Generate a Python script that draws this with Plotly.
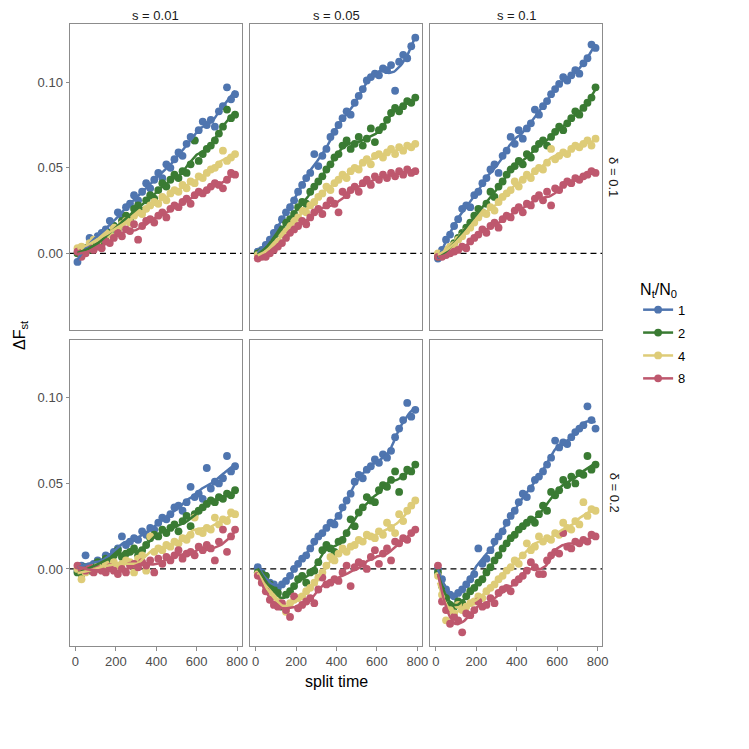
import numpy as np
import plotly.graph_objects as go
from plotly.subplots import make_subplots

# ---------------- data ----------------
split_time = [10, 30, 50, 70, 90, 110, 130, 150, 170, 190,
              210, 230, 250, 270, 290, 310, 330, 350, 370, 390,
              410, 430, 450, 470, 490, 510, 530, 550, 570, 590,
              610, 630, 650, 670, 690, 710, 730, 750, 770, 790]

ratio_labels = ["1", "2", "4", "8"]
s_labels = ["s = 0.01", "s = 0.05", "s = 0.1"]
delta_labels = ["δ = 0.1", "δ = 0.2"]
x_ticks = [0, 200, 400, 600, 800]
y_ticks = [0.0, 0.05, 0.10]
y_ticktext = ["0.00", "0.05", "0.10"]

# delta = 0.1, s = 0.01
d1_s1_n1 = [-0.005, 0.001, 0.003, 0.009, 0.006, 0.010, 0.012, 0.014, 0.019, 0.016, 0.024, 0.022, 0.027, 0.029, 0.034, 0.031, 0.036, 0.041, 0.038, 0.043, 0.047, 0.044, 0.052, 0.050, 0.055, 0.059, 0.057, 0.064, 0.068, 0.066, 0.072, 0.077, 0.075, 0.078, 0.074, 0.083, 0.086, 0.097, 0.090, 0.093]
d1_s1_n2 = [0.000, 0.001, 0.003, 0.002, 0.005, 0.007, 0.006, 0.010, 0.012, 0.016, 0.014, 0.019, 0.022, 0.020, 0.026, 0.028, 0.025, 0.031, 0.034, 0.032, 0.037, 0.041, 0.039, 0.043, 0.046, 0.044, 0.048, 0.047, 0.052, 0.066, 0.054, 0.058, 0.061, 0.063, 0.066, 0.070, 0.074, 0.084, 0.079, 0.081]
d1_s1_n4 = [0.003, 0.004, 0.002, 0.006, 0.008, 0.007, 0.010, 0.012, 0.011, 0.015, 0.014, 0.017, 0.019, 0.018, 0.022, 0.024, 0.023, 0.026, 0.028, 0.030, 0.029, 0.033, 0.031, 0.035, 0.037, 0.036, 0.040, 0.038, 0.042, 0.041, 0.045, 0.044, 0.047, 0.049, 0.050, 0.052, 0.060, 0.054, 0.056, 0.058]
d1_s1_n8 = [0.001, -0.002, 0.000, 0.003, 0.002, 0.004, 0.003, 0.007, 0.006, 0.009, 0.012, 0.010, 0.014, 0.013, 0.017, 0.008, 0.016, 0.019, 0.020, 0.018, 0.022, 0.024, 0.021, 0.026, 0.028, 0.027, 0.030, 0.032, 0.029, 0.034, 0.036, 0.035, 0.037, 0.039, 0.041, 0.040, 0.038, 0.043, 0.047, 0.046]

# delta = 0.1, s = 0.05
d1_s2_n1 = [0.001, 0.002, 0.005, 0.008, 0.012, 0.015, 0.020, 0.024, 0.027, 0.031, 0.036, 0.040, 0.044, 0.047, 0.058, 0.051, 0.057, 0.061, 0.068, 0.071, 0.075, 0.079, 0.083, 0.081, 0.088, 0.092, 0.096, 0.101, 0.103, 0.105, 0.104, 0.108, 0.107, 0.110, 0.095, 0.112, 0.116, 0.114, 0.121, 0.126]
d1_s2_n2 = [0.000, 0.001, 0.002, 0.005, 0.009, 0.012, 0.014, 0.018, 0.020, 0.023, 0.027, 0.030, 0.029, 0.036, 0.039, 0.042, 0.045, 0.049, 0.052, 0.056, 0.058, 0.063, 0.066, 0.061, 0.064, 0.068, 0.063, 0.067, 0.073, 0.065, 0.072, 0.074, 0.078, 0.082, 0.085, 0.083, 0.086, 0.089, 0.088, 0.091]
d1_s2_n4 = [-0.001, 0.000, 0.001, 0.003, 0.005, 0.007, 0.011, 0.013, 0.016, 0.019, 0.021, 0.025, 0.024, 0.028, 0.030, 0.033, 0.035, 0.039, 0.037, 0.041, 0.043, 0.046, 0.044, 0.048, 0.050, 0.049, 0.053, 0.055, 0.052, 0.057, 0.058, 0.056, 0.059, 0.061, 0.058, 0.062, 0.060, 0.063, 0.062, 0.064]
d1_s2_n8 = [-0.003, -0.002, -0.002, 0.000, 0.002, 0.004, 0.006, 0.009, 0.012, 0.014, 0.016, 0.019, 0.017, 0.021, 0.024, 0.026, 0.023, 0.028, 0.031, 0.029, 0.024, 0.036, 0.034, 0.037, 0.039, 0.036, 0.041, 0.043, 0.040, 0.045, 0.043, 0.046, 0.044, 0.047, 0.045, 0.048, 0.046, 0.049, 0.047, 0.048]

# delta = 0.1, s = 0.1
d1_s3_n1 = [-0.003, 0.002, 0.008, 0.011, 0.016, 0.020, 0.026, 0.028, 0.027, 0.034, 0.036, 0.041, 0.044, 0.049, 0.052, 0.047, 0.057, 0.060, 0.068, 0.064, 0.072, 0.067, 0.073, 0.076, 0.084, 0.081, 0.086, 0.089, 0.093, 0.096, 0.099, 0.103, 0.101, 0.104, 0.107, 0.105, 0.111, 0.114, 0.122, 0.120]
d1_s3_n2 = [-0.002, -0.001, 0.001, 0.003, 0.006, 0.009, 0.012, 0.015, 0.018, 0.022, 0.026, 0.024, 0.029, 0.036, 0.033, 0.039, 0.042, 0.046, 0.049, 0.051, 0.054, 0.052, 0.058, 0.056, 0.061, 0.064, 0.066, 0.063, 0.068, 0.071, 0.074, 0.072, 0.076, 0.079, 0.083, 0.081, 0.085, 0.088, 0.091, 0.097]
d1_s3_n4 = [0.000, -0.001, 0.002, 0.004, 0.005, 0.008, 0.010, 0.013, 0.015, 0.018, 0.021, 0.024, 0.023, 0.027, 0.025, 0.030, 0.033, 0.035, 0.037, 0.042, 0.039, 0.043, 0.046, 0.044, 0.048, 0.050, 0.049, 0.053, 0.061, 0.055, 0.057, 0.059, 0.058, 0.061, 0.063, 0.062, 0.064, 0.066, 0.063, 0.067]
d1_s3_n8 = [-0.002, -0.002, -0.001, 0.000, 0.001, 0.002, 0.004, 0.003, 0.007, 0.009, 0.011, 0.014, 0.012, 0.016, 0.018, 0.015, 0.020, 0.022, 0.021, 0.025, 0.027, 0.024, 0.029, 0.028, 0.032, 0.034, 0.031, 0.036, 0.028, 0.038, 0.037, 0.040, 0.042, 0.041, 0.044, 0.043, 0.045, 0.046, 0.048, 0.047]

# delta = 0.2, s = 0.01
d2_s1_n1 = [-0.001, 0.002, 0.008, 0.001, 0.003, 0.005, 0.004, 0.008, 0.007, 0.010, 0.012, 0.019, 0.014, 0.016, 0.018, 0.017, 0.022, 0.020, 0.024, 0.023, 0.027, 0.030, 0.029, 0.032, 0.036, 0.037, 0.034, 0.039, 0.048, 0.042, 0.044, 0.041, 0.059, 0.047, 0.051, 0.050, 0.053, 0.066, 0.057, 0.060]
d2_s1_n2 = [-0.002, -0.003, 0.001, -0.001, 0.002, 0.004, 0.003, 0.006, 0.005, 0.008, 0.011, 0.007, 0.009, 0.010, 0.012, 0.008, 0.011, 0.014, 0.018, 0.020, 0.019, 0.023, 0.021, 0.024, 0.026, 0.022, 0.028, 0.031, 0.025, 0.032, 0.034, 0.036, 0.038, 0.040, 0.039, 0.042, 0.041, 0.044, 0.043, 0.046]
d2_s1_n4 = [0.000, -0.006, -0.002, 0.001, -0.001, 0.002, 0.000, 0.003, 0.001, 0.004, 0.002, 0.003, 0.005, 0.004, -0.002, 0.006, 0.008, -0.001, 0.019, 0.010, 0.012, 0.011, 0.014, 0.013, 0.016, 0.015, 0.018, 0.017, 0.020, 0.030, 0.022, 0.021, 0.024, 0.023, 0.030, 0.026, 0.029, 0.028, 0.033, 0.032]
d2_s1_n8 = [0.002, 0.000, -0.001, 0.001, -0.002, 0.000, -0.001, -0.002, 0.001, -0.001, -0.003, 0.000, -0.002, 0.002, 0.003, 0.001, 0.004, 0.002, 0.005, -0.002, 0.006, 0.003, 0.007, 0.005, 0.008, 0.011, 0.006, 0.009, 0.010, 0.008, 0.013, 0.011, 0.014, 0.012, 0.005, 0.016, 0.023, 0.010, 0.019, 0.023]

# delta = 0.2, s = 0.05
d2_s2_n1 = [0.001, -0.002, -0.004, -0.008, -0.009, -0.011, -0.009, -0.007, -0.004, 0.000, 0.003, 0.006, 0.008, 0.012, 0.016, 0.019, 0.021, 0.024, 0.027, 0.026, 0.031, 0.036, 0.040, 0.044, 0.051, 0.055, 0.053, 0.058, 0.060, 0.064, 0.062, 0.067, 0.065, 0.069, 0.077, 0.082, 0.087, 0.097, 0.089, 0.093]
d2_s2_n2 = [-0.002, -0.003, -0.004, -0.009, -0.012, -0.014, -0.022, -0.015, -0.013, -0.010, -0.006, -0.004, -0.008, -0.002, -0.001, 0.004, 0.011, 0.014, 0.012, 0.010, 0.016, 0.017, 0.021, 0.029, 0.025, 0.033, 0.036, 0.042, 0.040, 0.039, 0.046, 0.049, 0.048, 0.052, 0.057, 0.045, 0.054, 0.058, 0.057, 0.061]
d2_s2_n4 = [-0.003, -0.006, -0.010, -0.013, -0.016, -0.019, -0.021, -0.025, -0.020, -0.018, -0.017, -0.016, -0.013, -0.011, -0.008, -0.005, -0.002, 0.002, 0.007, 0.005, 0.009, 0.012, 0.010, 0.013, 0.014, 0.017, 0.016, 0.020, 0.019, 0.018, 0.022, 0.020, 0.027, 0.024, 0.021, 0.032, 0.028, 0.034, 0.037, 0.040]
d2_s2_n8 = [-0.004, -0.008, -0.013, -0.018, -0.021, -0.022, -0.020, -0.024, -0.028, -0.016, -0.023, -0.021, -0.019, -0.017, -0.020, -0.012, -0.005, -0.009, -0.008, -0.006, -0.007, -0.002, 0.002, -0.010, 0.001, 0.004, 0.003, 0.000, 0.007, 0.011, 0.003, 0.009, 0.012, 0.005, 0.016, 0.015, 0.018, 0.017, 0.021, 0.023]

# delta = 0.2, s = 0.1
d2_s3_n1 = [0.000, -0.006, -0.012, -0.015, -0.016, -0.014, -0.012, -0.009, -0.006, -0.003, 0.012, 0.003, 0.006, 0.011, 0.016, 0.019, 0.022, 0.027, 0.031, 0.034, 0.039, 0.044, 0.042, 0.047, 0.052, 0.054, 0.057, 0.061, 0.065, 0.075, 0.071, 0.074, 0.073, 0.077, 0.080, 0.082, 0.084, 0.095, 0.087, 0.082]
d2_s3_n2 = [-0.002, -0.010, -0.017, -0.021, -0.022, -0.019, -0.020, -0.016, -0.013, -0.011, -0.008, -0.006, -0.002, 0.001, 0.005, 0.008, 0.012, 0.015, 0.018, 0.020, 0.023, 0.025, 0.027, 0.029, 0.027, 0.032, 0.037, 0.034, 0.045, 0.043, 0.046, 0.052, 0.049, 0.054, 0.050, 0.056, 0.055, 0.066, 0.058, 0.061]
d2_s3_n4 = [-0.004, -0.015, -0.030, -0.024, -0.026, -0.021, -0.024, -0.022, -0.020, -0.019, -0.016, -0.017, -0.013, -0.011, -0.009, -0.006, -0.004, -0.001, 0.001, 0.005, 0.003, 0.008, 0.015, 0.011, 0.013, 0.019, 0.016, 0.018, 0.017, 0.021, 0.020, 0.027, 0.024, 0.023, 0.028, 0.026, 0.039, 0.031, 0.035, 0.034]
d2_s3_n8 = [0.002, -0.019, -0.024, -0.032, -0.028, -0.030, -0.037, -0.026, -0.027, -0.024, -0.019, -0.022, -0.021, -0.017, -0.020, -0.014, -0.012, -0.011, -0.013, -0.008, -0.006, -0.004, -0.001, 0.004, 0.001, -0.003, -0.003, 0.005, 0.008, 0.010, 0.009, 0.021, 0.013, 0.012, 0.016, 0.015, 0.017, 0.016, 0.020, 0.019]

panels = [
    [[d1_s1_n1, d1_s1_n2, d1_s1_n4, d1_s1_n8],
     [d1_s2_n1, d1_s2_n2, d1_s2_n4, d1_s2_n8],
     [d1_s3_n1, d1_s3_n2, d1_s3_n4, d1_s3_n8]],
    [[d2_s1_n1, d2_s1_n2, d2_s1_n4, d2_s1_n8],
     [d2_s2_n1, d2_s2_n2, d2_s2_n4, d2_s2_n8],
     [d2_s3_n1, d2_s3_n2, d2_s3_n4, d2_s3_n8]],
]

colors = ["#4F75AF", "#3A7B33", "#DECC78", "#BE586E"]


def loess(x, y, xs, span=0.3):
    x = np.asarray(x, float)
    y = np.asarray(y, float)
    q = max(4, int(np.floor(span * len(x))))
    out = []
    for x0 in xs:
        d = np.abs(x - x0)
        h = np.sort(d)[q - 1] * 1.0001
        w = np.clip(1 - (d / h) ** 3, 0, None) ** 3
        m = w > 0
        c = np.polyfit(x[m] - x0, y[m], 2, w=np.sqrt(w[m]))
        out.append(c[-1])
    return np.array(out)


# ---------------- figure ----------------
W = H = 749
L, T = 62, 16
PANEL_W, PANEL_H = 171.5, 306.5
GAP_X, GAP_Y = 8.7, 9.2
pw = 3 * PANEL_W + 2 * GAP_X
ph = 2 * PANEL_H + GAP_Y
R = W - L - pw
B = H - T - ph
FONT = "Liberation Sans"

fig = make_subplots(rows=2, cols=3,
                    horizontal_spacing=GAP_X / pw,
                    vertical_spacing=GAP_Y / ph)

xs = np.linspace(min(split_time), max(split_time), 120)
for r in range(2):
    for c in range(3):
        series = panels[r][c]
        for k, vals in enumerate(series):
            fig.add_trace(go.Scatter(
                x=split_time, y=vals, mode="markers",
                marker=dict(color=colors[k], size=7.8),
                showlegend=False, hoverinfo="skip"), row=r + 1, col=c + 1)
        for k, vals in enumerate(series):
            fig.add_trace(go.Scatter(
                x=xs, y=loess(split_time, vals, xs), mode="lines",
                line=dict(color=colors[k], width=2.5),
                showlegend=False, hoverinfo="skip"), row=r + 1, col=c + 1)
        fig.add_hline(y=0, line=dict(color="black", width=1.3, dash="6px,4px"),
                      row=r + 1, col=c + 1, layer="below")

for k, lab in enumerate(ratio_labels):
    fig.add_trace(go.Scatter(x=[None], y=[None], mode="lines+markers", name=lab,
                             legendgroup=lab,
                             line=dict(color=colors[k], width=2.5),
                             marker=dict(color=colors[k], size=7.8)))

axis_common = dict(showgrid=False, zeroline=False, showline=True, mirror=True,
                   linecolor="#8C8C8C", linewidth=1,
                   tickfont=dict(family=FONT, size=13, color="#4D4D4D"),
                   tickcolor="#8C8C8C", ticklen=3.5, tickwidth=1)
for r in range(2):
    for c in range(3):
        fig.update_xaxes(axis_common, range=[-27, 822], tickvals=x_ticks,
                         ticks="outside" if r == 1 else "",
                         showticklabels=(r == 1), row=r + 1, col=c + 1)
        fig.update_yaxes(axis_common, range=[-0.045, 0.134], tickvals=y_ticks,
                         ticktext=y_ticktext,
                         ticks="outside" if c == 0 else "",
                         showticklabels=(c == 0), row=r + 1, col=c + 1)

ann = []
font_strip = dict(family=FONT, size=13, color="#1A1A1A")
for c, lab in enumerate(s_labels):
    cx = c * (PANEL_W + GAP_X) + PANEL_W / 2
    ann.append(dict(text=lab, x=cx / pw, y=1 + (T - 7.5) / ph,
                    xref="paper", yref="paper", showarrow=False, font=font_strip,
                    xanchor="center", yanchor="middle"))
for r, lab in enumerate(delta_labels):
    cy = r * (PANEL_H + GAP_Y) + PANEL_H / 2
    ann.append(dict(text=lab, x=(606 - L) / pw, y=1 - cy / ph,
                    xref="paper", yref="paper", showarrow=False, font=font_strip,
                    textangle=90, xanchor="center", yanchor="middle"))
ann.append(dict(text="split time", x=0.5, y=-(674 - (T + ph)) / ph,
                xref="paper", yref="paper", showarrow=False,
                font=dict(family=FONT, size=16, color="black"),
                xanchor="center", yanchor="middle"))
ann.append(dict(text="ΔF<sub>st</sub>", x=(12 - L) / pw, y=0.5,
                xref="paper", yref="paper", showarrow=False, textangle=-90,
                font=dict(family=FONT, size=16, color="black"),
                xanchor="center", yanchor="middle"))

fig.update_layout(
    width=W, height=H,
    margin=dict(l=L, r=R, t=T, b=B),
    plot_bgcolor="white", paper_bgcolor="white",
    annotations=ann,
    legend=dict(title=dict(text="N<sub>t</sub>/N<sub>0</sub>",
                           font=dict(family=FONT, size=16, color="black")),
                font=dict(family=FONT, size=13, color="black"),
                x=(630 - L) / pw, xanchor="left",
                y=1 - (266 - T) / ph, yanchor="top",
                itemwidth=30, tracegroupgap=3,
                bgcolor="rgba(0,0,0,0)"),
)

fig.write_html("out.html")
